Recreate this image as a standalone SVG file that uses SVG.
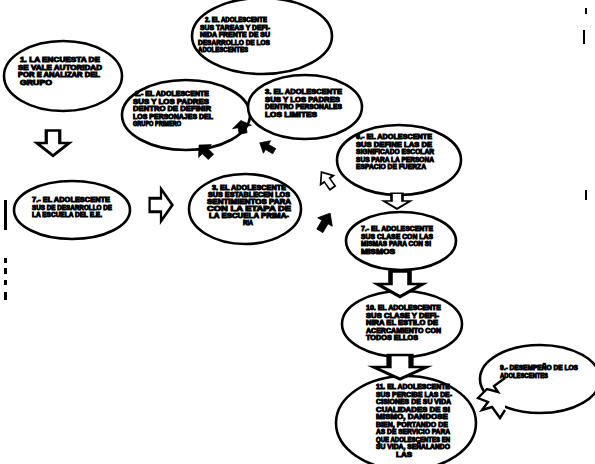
<svg xmlns="http://www.w3.org/2000/svg" xmlns:xlink="http://www.w3.org/1999/xlink" width="595" height="464" viewBox="0 0 595 464">
<defs>
<style>
.n{fill:#fff;stroke:#000;stroke-width:2.6}
.t{font-family:"Liberation Sans",Arial,sans-serif;font-weight:bold;font-size:7px;fill:#000;stroke:#000;stroke-width:0.95}
.ah{fill:#fff;stroke:#000;stroke-width:2.4;stroke-linejoin:miter}
.as{fill:#000;stroke:#000;stroke-width:1}
.mk{fill:#000}
</style>
<path id="arr" d="M-12,-5 L0,-5 L0,-12 L12,0 L0,12 L0,5 L-12,5 Z"/>
</defs>
<rect width="595" height="464" fill="#fff"/>

<g id="n1"><ellipse class="n" cx="63" cy="76" rx="59" ry="35"/>
<text class="t" x="20" y="62" textLength="80" lengthAdjust="spacingAndGlyphs">1.  LA ENCUESTA DE</text>
<text class="t" x="18" y="69.5" textLength="84" lengthAdjust="spacingAndGlyphs">SE VALE AUTORIDAD</text>
<text class="t" x="18" y="77" textLength="82" lengthAdjust="spacingAndGlyphs">POR E ANALIZAR DEL</text>
<text class="t" x="20" y="84.5" textLength="32" lengthAdjust="spacingAndGlyphs">GRUPO</text></g>

<g id="n2"><ellipse class="n" cx="262" cy="36" rx="70" ry="38"/>
<text class="t" x="205" y="22" textLength="62" lengthAdjust="spacingAndGlyphs">2.  EL ADOLESCENTE</text>
<text class="t" x="200" y="29.5" textLength="70" lengthAdjust="spacingAndGlyphs">SUS TAREAS Y DEFI-</text>
<text class="t" x="200" y="37" textLength="70" lengthAdjust="spacingAndGlyphs">NIDA FRENTE DE SU</text>
<text class="t" x="198" y="44.5" textLength="72" lengthAdjust="spacingAndGlyphs">DESARROLLO DE LOS</text>
<text class="t" x="198" y="52" textLength="50" lengthAdjust="spacingAndGlyphs">ADOLESCENTES</text></g>

<g id="n3"><ellipse class="n" cx="186" cy="115" rx="64" ry="35"/>
<text class="t" x="135" y="96" textLength="74" lengthAdjust="spacingAndGlyphs">2.-  EL  ADOLESCENTE</text>
<text class="t" x="133" y="103.5" textLength="76" lengthAdjust="spacingAndGlyphs">SUS Y LOS PADRES</text>
<text class="t" x="133" y="111" textLength="78" lengthAdjust="spacingAndGlyphs">DENTRO   DE DEFINIR</text>
<text class="t" x="133" y="118.5" textLength="80" lengthAdjust="spacingAndGlyphs">LOS PERSONAJES DEL</text>
<text class="t" x="133" y="126" textLength="48" lengthAdjust="spacingAndGlyphs">GRUPO PRIMERO</text></g>

<g id="n4"><ellipse class="n" cx="305" cy="107" rx="57" ry="32"/>
<text class="t" x="265" y="94" textLength="77" lengthAdjust="spacingAndGlyphs">3.  EL  ADOLESCENTE</text>
<text class="t" x="265" y="101.5" textLength="75" lengthAdjust="spacingAndGlyphs">SUS Y LOS PADRES</text>
<text class="t" x="265" y="109" textLength="77" lengthAdjust="spacingAndGlyphs">DENTRO  PERSONALES</text>
<text class="t" x="265" y="116.5" textLength="52" lengthAdjust="spacingAndGlyphs">LOS LIMITES</text></g>

<g id="n5"><ellipse class="n" cx="399" cy="160" rx="62" ry="35"/>
<text class="t" x="356" y="139" textLength="76" lengthAdjust="spacingAndGlyphs">6.-  EL  ADOLESCENTE</text>
<text class="t" x="356" y="146.5" textLength="76" lengthAdjust="spacingAndGlyphs">SUS DEFINE LAS DE</text>
<text class="t" x="356" y="154" textLength="78" lengthAdjust="spacingAndGlyphs">SIGNIFICADO ESCOLAR</text>
<text class="t" x="356" y="161.5" textLength="78" lengthAdjust="spacingAndGlyphs">SUS PARA LA PERSONA</text>
<text class="t" x="356" y="169" textLength="70" lengthAdjust="spacingAndGlyphs">ESPACIO DE FUERZA</text></g>

<g id="n6"><ellipse class="n" cx="72" cy="210" rx="58" ry="29"/>
<text class="t" x="32" y="202" textLength="78" lengthAdjust="spacingAndGlyphs">7.-   EL   ADOLESCENTE</text>
<text class="t" x="32" y="209.5" textLength="80" lengthAdjust="spacingAndGlyphs">SUS DE DESARROLLO DE</text>
<text class="t" x="32" y="217" textLength="70" lengthAdjust="spacingAndGlyphs">LA ESCUELA DEL E.E.</text></g>

<g id="n7"><ellipse class="n" cx="245" cy="209" rx="56" ry="35"/>
<text class="t" x="212" y="190" textLength="74" lengthAdjust="spacingAndGlyphs">3.   EL   ADOLESCENTE</text>
<text class="t" x="208" y="197" textLength="82" lengthAdjust="spacingAndGlyphs">SUS ESTABLECEN LOS</text>
<text class="t" x="207" y="204" textLength="84" lengthAdjust="spacingAndGlyphs">SENTIMIENTOS PARA</text>
<text class="t" x="207" y="211" textLength="84" lengthAdjust="spacingAndGlyphs">CON  LA  ETAPA  DE</text>
<text class="t" x="209" y="218" textLength="80" lengthAdjust="spacingAndGlyphs">LA ESCUELA PRIMA-</text>
<text class="t" x="243" y="225" textLength="10" lengthAdjust="spacingAndGlyphs">RIA</text></g>

<g id="n8"><ellipse class="n" cx="401" cy="241" rx="55" ry="29"/>
<text class="t" x="361" y="231" textLength="72" lengthAdjust="spacingAndGlyphs">7.-  EL  ADOLESCENTE</text>
<text class="t" x="361" y="238.5" textLength="72" lengthAdjust="spacingAndGlyphs">SUS CLASE CON LAS</text>
<text class="t" x="361" y="246" textLength="70" lengthAdjust="spacingAndGlyphs">MISMAS PARA CON SI</text>
<text class="t" x="361" y="253.5" textLength="34" lengthAdjust="spacingAndGlyphs">MISMOS</text></g>

<g id="n9"><ellipse class="n" cx="402" cy="324" rx="60" ry="33"/>
<text class="t" x="366" y="310" textLength="75" lengthAdjust="spacingAndGlyphs">10.  EL  ADOLESCENTE</text>
<text class="t" x="366" y="317.5" textLength="73" lengthAdjust="spacingAndGlyphs">SUS CLASE Y DEFI-</text>
<text class="t" x="366" y="325" textLength="72" lengthAdjust="spacingAndGlyphs">NIRA  EL  ESTILO  DE</text>
<text class="t" x="366" y="332.5" textLength="75" lengthAdjust="spacingAndGlyphs">ACERCAMIENTO CON</text>
<text class="t" x="366" y="340" textLength="52" lengthAdjust="spacingAndGlyphs">TODOS ELLOS</text></g>

<g id="n10"><ellipse class="n" cx="406" cy="423" rx="70" ry="47"/>
<text class="t" x="376" y="389" textLength="74" lengthAdjust="spacingAndGlyphs">11.  EL  ADOLESCENTE</text>
<text class="t" x="376" y="396.5" textLength="76" lengthAdjust="spacingAndGlyphs">SUS PERCIBE LAS DE-</text>
<text class="t" x="376" y="404" textLength="75" lengthAdjust="spacingAndGlyphs">CISIONES DE SU VIDA</text>
<text class="t" x="376" y="411.5" textLength="74" lengthAdjust="spacingAndGlyphs">CUALIDADES DE SI</text>
<text class="t" x="376" y="419" textLength="72" lengthAdjust="spacingAndGlyphs">MISMO,  DANDOSE</text>
<text class="t" x="376" y="426.5" textLength="72" lengthAdjust="spacingAndGlyphs">BIEN,  PORTANDO DE</text>
<text class="t" x="376" y="434" textLength="74" lengthAdjust="spacingAndGlyphs">AS DE SERVICIO PARA</text>
<text class="t" x="376" y="441.5" textLength="74" lengthAdjust="spacingAndGlyphs">QUE ADOLESCENTES EN</text>
<text class="t" x="376" y="449" textLength="74" lengthAdjust="spacingAndGlyphs">SU VIDA, SEÑALANDO</text>
<text class="t" x="396" y="456.5" textLength="16" lengthAdjust="spacingAndGlyphs">LAS</text></g>

<g id="n11"><ellipse class="n" cx="540" cy="379" rx="60" ry="34"/>
<text class="t" x="500" y="370" textLength="78" lengthAdjust="spacingAndGlyphs">9.-  DESEMPEÑO  DE  LOS</text>
<text class="t" x="500" y="377.5" textLength="48" lengthAdjust="spacingAndGlyphs">ADOLESCENTES</text></g>

<g id="connectors">
<use xlink:href="#arr" class="ah" transform="translate(53,143) rotate(90) scale(1.05,1.35)"/>
<use xlink:href="#arr" class="ah" transform="translate(161,205) scale(0.95,1.35)"/>
<use xlink:href="#arr" class="as" transform="translate(242,127) rotate(-100) scale(0.55,0.8)"/>
<use xlink:href="#arr" class="as" transform="translate(205,151) rotate(-135) scale(0.7,0.75)"/>
<use xlink:href="#arr" class="as" transform="translate(267,147) rotate(-150) scale(0.7,0.6)"/>
<use xlink:href="#arr" class="ah" transform="translate(327,180) rotate(-125) scale(0.8,0.65)"/>
<use xlink:href="#arr" class="as" transform="translate(325,222) rotate(-60) scale(0.85,0.7)"/>
<use xlink:href="#arr" class="ah" transform="translate(397,201) rotate(90) scale(0.65,1.1)"/>
<use xlink:href="#arr" class="ah" transform="translate(400,284) rotate(90) scale(1.05,1.9)"/>
<use xlink:href="#arr" class="ah" transform="translate(400,367) rotate(90) scale(1.0,2.2)"/>
<path class="ah" d="M505,378 L494,386 L498,392 L487,389 L478,398 L488,402 L482,410 L492,407 L500,418 L505,410"/>
</g>

<g id="marks">
<rect class="mk" x="4" y="200" width="3" height="30"/>
<rect class="mk" x="4" y="258" width="3" height="5"/>
<rect class="mk" x="4" y="268" width="3" height="6"/>
<rect class="mk" x="4" y="280" width="3" height="5"/>
<rect class="mk" x="4" y="292" width="3" height="8"/>
<rect class="mk" x="585" y="8" width="2" height="6"/>
<rect class="mk" x="583" y="30" width="2" height="14"/>
<rect class="mk" x="585" y="190" width="2" height="10"/>
</g>
</svg>
